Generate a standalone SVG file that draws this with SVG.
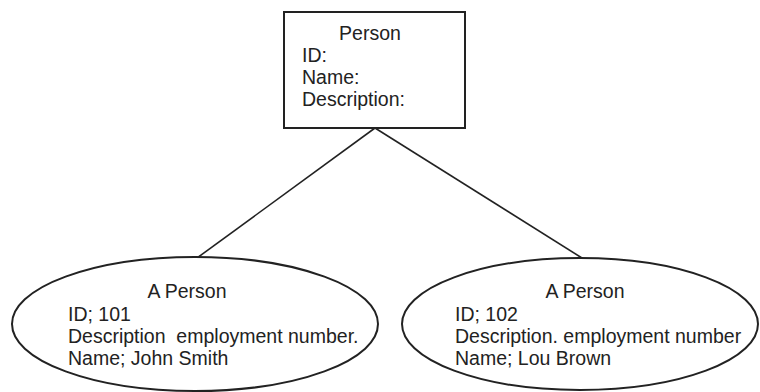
<svg xmlns="http://www.w3.org/2000/svg" width="760" height="392" viewBox="0 0 760 392">
<style>
.shape{fill:#fff;stroke:#222;stroke-width:2}
.conn{stroke:#222;stroke-width:1.6;fill:none}
text{font-family:"Liberation Sans",Arial,sans-serif;font-size:19.5px;fill:#222;white-space:pre}
.c{text-anchor:middle}
</style>
<rect width="760" height="392" fill="#fff"/>
<g id="connectors">
<line class="conn" x1="375" y1="128" x2="197" y2="258"/>
<line class="conn" x1="375" y1="128" x2="582" y2="258"/>
</g>
<g id="person">
<rect class="shape" x="284" y="12" width="181" height="116"/>
<text class="c" x="370" y="40">Person</text>
<text x="302" y="62">ID:</text>
<text x="302" y="84">Name:</text>
<text x="302" y="106">Description:</text>
</g>
<g id="person101">
<ellipse class="shape" cx="195" cy="324" rx="183" ry="67"/>
<text class="c" x="187" y="298">A Person</text>
<text x="68" y="321">ID; 101</text>
<text x="68" y="343" xml:space="preserve">Description  employment number.</text>
<text x="68" y="365">Name; John Smith</text>
</g>
<g id="person102">
<ellipse class="shape" cx="580" cy="324" rx="178" ry="66"/>
<text class="c" x="585" y="298">A Person</text>
<text x="455" y="321">ID; 102</text>
<text x="455" y="343">Description. employment number</text>
<text x="455" y="365">Name; Lou Brown</text>
</g>
</svg>
